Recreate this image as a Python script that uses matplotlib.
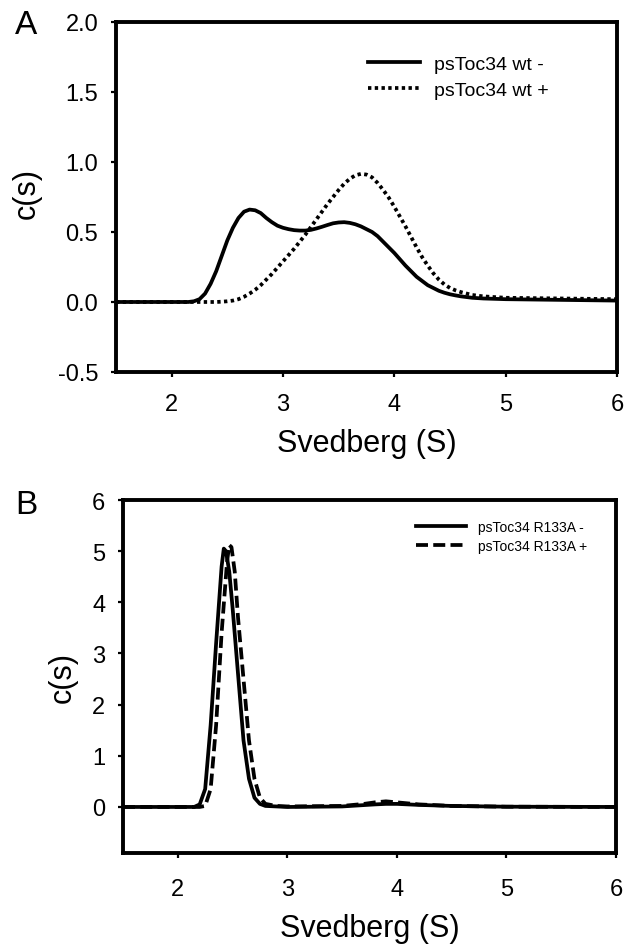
import matplotlib
matplotlib.use("Agg")
import matplotlib.pyplot as plt

plt.rcParams['font.family'] = ['Liberation Sans', 'DejaVu Sans']

# panel A: psToc34 wt, c(s) distributions
a_s = [1.5, 1.8, 2.0, 2.1,
       2.15, 2.2, 2.25, 2.3, 2.35, 2.4, 2.45, 2.5, 2.55, 2.6,
       2.65, 2.7, 2.75, 2.8, 2.85, 2.9, 2.95, 3.0, 3.05, 3.1,
       3.15, 3.2, 3.25, 3.3, 3.35, 3.4, 3.45, 3.5, 3.55, 3.6,
       3.65, 3.7, 3.75, 3.8, 3.85, 3.9, 3.95, 4.0, 4.05, 4.1,
       4.15, 4.2, 4.25, 4.3, 4.35, 4.4, 4.45, 4.5, 4.55, 4.6,
       4.7, 4.8, 5.0, 5.5, 6.0]
a_wt_minus = [0.0, 0.0, 0.0, 0.0,
              0.0, 0.005, 0.02, 0.06, 0.13, 0.22, 0.33, 0.44, 0.53, 0.60,
              0.645, 0.66, 0.655, 0.635, 0.60, 0.57, 0.545, 0.53, 0.52, 0.513,
              0.51, 0.51, 0.515, 0.525, 0.537, 0.55, 0.562, 0.568, 0.57, 0.565,
              0.555, 0.54, 0.52, 0.50, 0.47, 0.43, 0.39, 0.35, 0.305, 0.26,
              0.22, 0.18, 0.15, 0.12, 0.10, 0.08, 0.066, 0.055, 0.047, 0.04,
              0.03, 0.025, 0.02, 0.015, 0.01]
a_wt_plus = [0.0, 0.0, 0.0, 0.0,
             0.0, 0.0, 0.0, 0.0, 0.0, 0.0, 0.002, 0.005, 0.01, 0.02,
             0.037, 0.06, 0.087, 0.12, 0.16, 0.20, 0.245, 0.29, 0.335, 0.38,
             0.43, 0.48, 0.535, 0.59, 0.645, 0.70, 0.75, 0.80, 0.845, 0.88,
             0.905, 0.915, 0.91, 0.89, 0.85, 0.80, 0.745, 0.68, 0.61, 0.54,
             0.465, 0.39, 0.32, 0.26, 0.205, 0.16, 0.125, 0.10, 0.083, 0.07,
             0.05, 0.04, 0.03, 0.025, 0.02]

# panel B: psToc34 R133A
b_s_minus = [1.5, 2.15, 2.20, 2.25, 2.30, 2.35, 2.40, 2.42, 2.44, 2.47, 2.50, 2.55, 2.60,
             2.65, 2.70, 2.75, 2.80, 3.0, 3.5, 3.8, 3.9, 4.0, 4.2, 4.5, 5.0, 6.0]
b_minus = [0.0, 0.0, 0.05, 0.35, 1.6, 3.2, 4.7, 5.05, 5.0, 4.6, 3.9, 2.6, 1.3,
           0.55, 0.18, 0.06, 0.02, 0.0, 0.01, 0.05, 0.06, 0.06, 0.04, 0.02, 0.005, 0.0]
b_s_plus = [1.5, 2.20, 2.25, 2.30, 2.35, 2.40, 2.45, 2.47, 2.49, 2.52, 2.55, 2.60, 2.65,
            2.70, 2.75, 2.80, 2.90, 3.0, 3.5, 3.7, 3.8, 3.9, 4.0, 4.2, 4.5, 5.0, 6.0]
b_plus = [0.0, 0.0, 0.02, 0.35, 1.6, 3.4, 4.8, 5.12, 5.08, 4.6, 3.7, 2.5, 1.3,
          0.55, 0.18, 0.06, 0.02, 0.01, 0.02, 0.06, 0.09, 0.11, 0.09, 0.05, 0.02, 0.005, 0.0]

x_ticks = [2, 3, 4, 5, 6]
a_yticks = [-0.5, 0.0, 0.5, 1.0, 1.5, 2.0]
b_yticks = [0, 1, 2, 3, 4, 5, 6]

fig = plt.figure(figsize=(6.25, 9.45), dpi=100)
axA = fig.add_axes([0.1856, 0.6053, 0.8016, 0.3704])
axB = fig.add_axes([0.1968, 0.0963, 0.7888, 0.3735])

lw = 2.7
kw = dict(color='black', lw=lw, solid_joinstyle='round')
axA.plot(a_s, a_wt_minus, label='psToc34 wt -', **kw)
axA.plot(a_s, a_wt_plus, linestyle=(0, (0.9, 0.9)), label='psToc34 wt +', **kw)
axB.plot(b_s_minus, b_minus, label='psToc34 R133A -', **kw)
axB.plot(b_s_plus, b_plus, linestyle=(0, (3.2, 1.4)), label='psToc34 R133A +', **kw)

for ax, yt, ylim in [(axA, a_yticks, (-0.5, 2.0)), (axB, b_yticks, (-0.9, 6))]:
    ax.set_xlim(1.5, 6)
    ax.set_ylim(*ylim)
    ax.set_xticks(x_ticks)
    ax.set_yticks(yt)
    for sp in ax.spines.values():
        sp.set_linewidth(2.8)
    ax.tick_params(direction='out', length=3.8, width=1.6, labelsize=17)
    ax.set_xlabel('Svedberg (S)', fontsize=22)
    ax.set_ylabel('c(s)', fontsize=22)

axA.set_yticklabels([f'{v:.1f}' for v in a_yticks])
axA.tick_params(axis='x', pad=11)
axA.tick_params(axis='y', pad=9)
axB.tick_params(axis='x', pad=14)
axB.tick_params(axis='y', pad=9)

axA.xaxis.set_label_coords(0.5, -0.16)
axB.xaxis.set_label_coords(0.5, -0.17)
axA.yaxis.set_label_coords(-0.148, 0.514)
axB.yaxis.set_label_coords(-0.091, 0.499)

axA.legend(loc='upper left', bbox_to_anchor=(0.503, 0.905), frameon=False, fontsize=14,
           borderpad=0, borderaxespad=0, handlelength=2.68, handletextpad=0.72,
           labelspacing=0.44)
axB.legend(loc='upper left', bbox_to_anchor=(0.594, 0.943), frameon=False, fontsize=10,
           borderpad=0, borderaxespad=0, handlelength=3.6, handletextpad=0.86,
           labelspacing=0.37)

fig.text(0.024, 1 - 26 / 945, 'A', fontsize=24, va='center', ha='left')
fig.text(0.024, 1 - 505 / 945, 'B', fontsize=24, va='center', ha='left')

fig.savefig('out.png', dpi=100)
